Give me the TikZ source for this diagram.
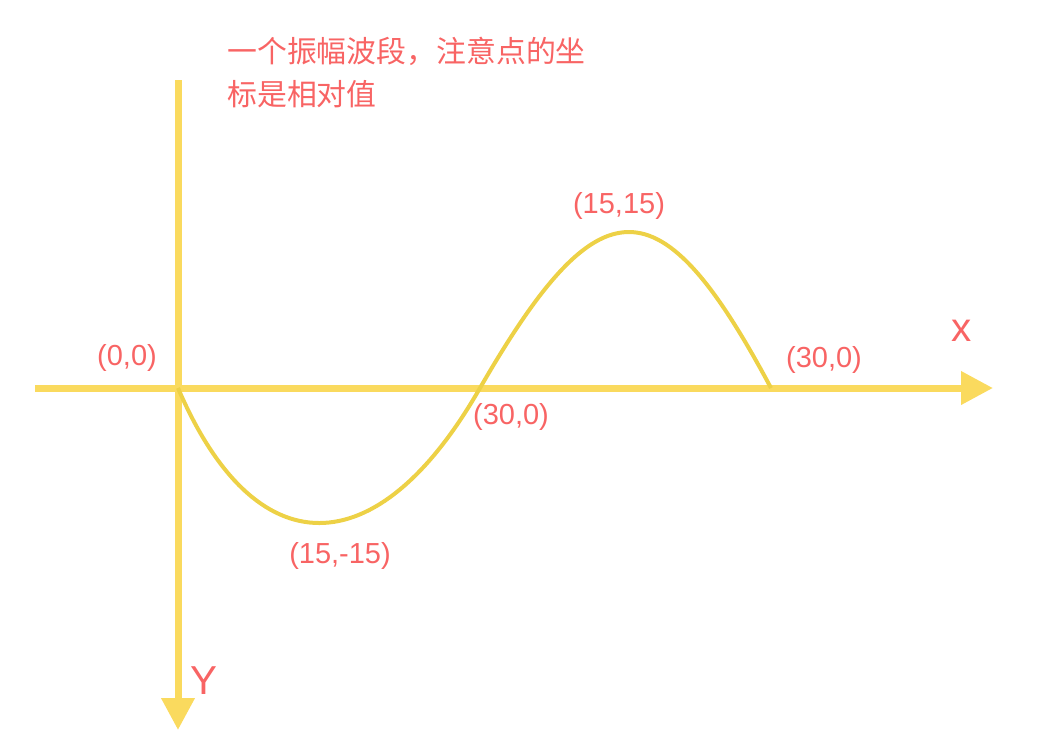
\documentclass[tikz,border=0pt]{standalone}
\usepackage{fontspec}
\setmainfont{Liberation Sans}
\newfontfamily\cjk{Noto Sans CJK SC}
\usetikzlibrary{arrows.meta, positioning}

\definecolor{axisyellow}{HTML}{FADA5E}
\definecolor{waveyellow}{HTML}{EDD146}
\definecolor{notered}{HTML}{F86464}

\begin{document}
\begin{tikzpicture}[x=0.02cm, y=-0.02cm,
        axis/.style={draw=axisyellow, line width=0.14cm, -{Triangle[length=0.64cm, width=0.64cm]}},
        wave/.style={draw=waveyellow, line width=0.08cm},
        lbl/.style={text=notered, font=\fontsize{16.5}{20}\selectfont, inner sep=0pt},
        axlbl/.style={text=notered, font=\fontsize{23}{26}\selectfont, inner sep=0pt}]
    \useasboundingbox (0,0) rectangle (1040,745);

    % axes
    \coordinate (xs) at (35, 388);
    \coordinate (xe) at (993, 388);
    \coordinate (ys) at (178, 80);
    \coordinate (ye) at (178, 730);
    \draw[axis] (xs) -- (xe);
    \draw[axis] (ys) -- (ye);

    % the wave: two arches through these points
    \coordinate (o) at (178, 388);
    \coordinate (mid) at (480, 388);
    \coordinate (end) at (771, 388);

    \draw[wave] (o) .. controls (255, 568) and (377, 568) .. (mid)
        .. controls (600, 180) and (660, 180) .. (end);

    % labels
    \node[lbl] (lo) at (127, 358) {(0,0)};
    \node[lbl] (lmid) at (511, 417) {(30,0)};
    \node[lbl] (llow) at (340, 556) {(15,-15)};
    \node[lbl] (lhigh) at (619, 206) {(15,15)};
    \node[lbl] (lend) at (824, 360) {(30,0)};
    \node[axlbl] (lx) at (962, 331) {x};
    \node[axlbl] (ly) at (204, 681) {Y};

    \node[text=notered, font=\cjk\fontsize{17}{24.5}\selectfont, align=left,
        anchor=north west, inner sep=0pt] (note) at (227, 37)
        {一个振幅波段，注意点的坐\\标是相对值};
\end{tikzpicture}
\end{document}
